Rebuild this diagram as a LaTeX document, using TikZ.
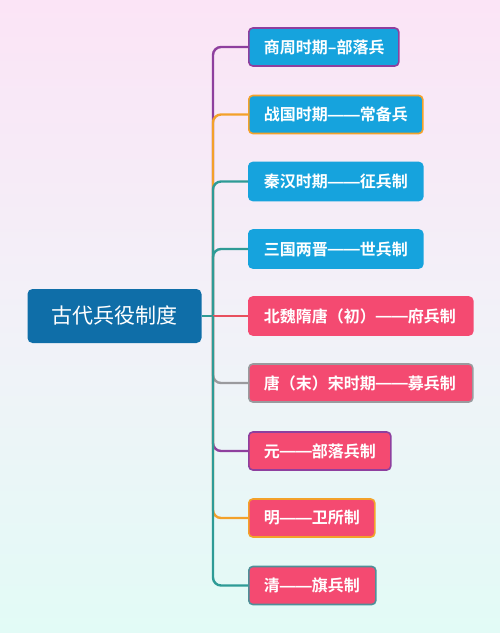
\documentclass[tikz,border=0pt]{standalone}
\usepackage{fontspec}
\newfontfamily\cjk{Noto Sans CJK SC}[BoldFont={Noto Sans CJK SC Bold}]
\newfontfamily\dashfont{Liberation Sans}
\newcommand\fwdash{\raisebox{0.5pt}{\dashfont\bfseries ——}}
\definecolor{bgtop}{HTML}{FBE4F6}
\definecolor{bgmid}{HTML}{F2F1F8}
\definecolor{bgbot}{HTML}{E2FBF6}
\definecolor{cblue}{HTML}{16A3DD}
\definecolor{cpink}{HTML}{F44A71}
\definecolor{croot}{HTML}{0F6EA8}
\definecolor{lpurple}{HTML}{8E3F9E}
\definecolor{lorange}{HTML}{F3A12A}
\definecolor{lteal}{HTML}{2E9B96}
\definecolor{lgray}{HTML}{9A9A9E}
\definecolor{lred}{HTML}{E8505E}
\definecolor{lbteal}{HTML}{4F8F98}
\tikzset{
  conn/.style={line width=2.4pt, rounded corners=8pt},
  leaf/.style={anchor=west, rounded corners=4pt, line width=1.6pt, minimum height=38pt,
     inner xsep=15pt, inner ysep=0pt, text=white, align=left,
     font=\cjk\bfseries\fontsize{16}{18}\selectfont},
  bleaf/.style={leaf, fill=cblue},
  pleaf/.style={leaf, fill=cpink},
  rootbox/.style={fill=croot, rounded corners=5pt, minimum width=174pt, minimum height=54pt,
     text=white, font=\cjk\fontsize{21}{24}\selectfont, inner sep=0pt}
}
\begin{document}
\begin{tikzpicture}[x=1pt,y=-1pt]
\shade[top color=bgtop, bottom color=bgbot, middle color=bgmid] (0,0) rectangle (500,633);
\useasboundingbox (0,0) rectangle (500,633);
\node[rootbox] (root) at (114.5,316) {古代兵役制度};
\coordinate (tr) at (213,316);
\node[bleaf, draw=lpurple, text width=120pt] (c1) at (248,47) {\mbox{商周时期–部落兵}};
\node[bleaf, draw=lorange, text width=144pt] (c2) at (248,114.5) {\mbox{战国时期\fwdash 常备兵}};
\node[bleaf, draw=cblue, text width=144pt] (c3) at (248,181.5) {\mbox{秦汉时期\fwdash 征兵制}};
\node[bleaf, draw=cblue, text width=144pt] (c4) at (248,249) {\mbox{三国两晋\fwdash 世兵制}};
\node[pleaf, draw=cpink, text width=194pt] (c5) at (248,316) {\mbox{北魏隋唐（初）\fwdash 府兵制}};
\node[pleaf, draw=lgray, text width=194pt] (c6) at (248,383) {\mbox{唐（末）宋时期\fwdash 募兵制}};
\node[pleaf, draw=lpurple, text width=112pt] (c7) at (248,451) {\mbox{元\fwdash 部落兵制}};
\node[pleaf, draw=lorange, text width=96pt] (c8) at (248,518) {\mbox{明\fwdash 卫所制}};
\node[pleaf, draw=lbteal, text width=97pt] (c9) at (248,585.5) {\mbox{清\fwdash 旗兵制}};
\draw[conn, lteal] (root.east) -- (tr);
\draw[conn, lpurple] (tr) |- (c1.west);
\draw[conn, lorange] (tr) |- (c2.west);
\draw[conn, lteal] (tr) |- (c3.west);
\draw[conn, lteal] (tr) |- (c4.west);
\draw[conn, lred] (tr) -- (c5.west);
\draw[conn, lgray] (tr) |- (c6.west);
\draw[conn, lpurple] (tr) |- (c7.west);
\draw[conn, lorange] (tr) |- (c8.west);
\draw[conn, lteal] (tr) |- (c9.west);
\end{tikzpicture}
\end{document}
